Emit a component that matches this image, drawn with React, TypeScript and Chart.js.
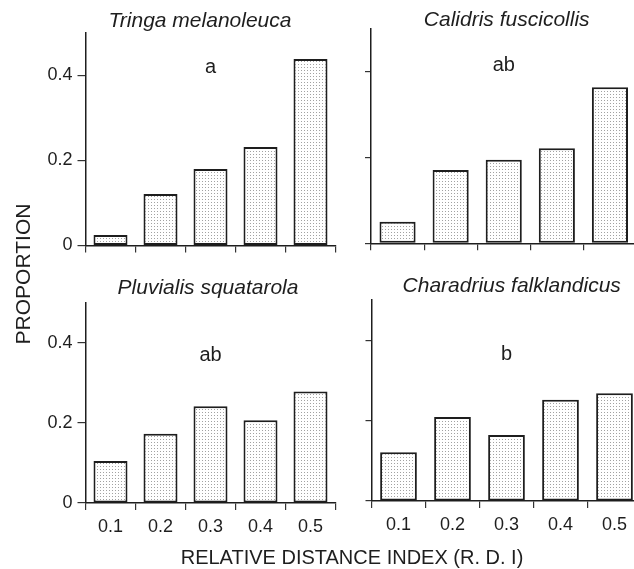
import React, { useEffect, useRef } from "react";
import { Chart, registerables } from "chart.js";

Chart.register(...registerables);

// ---- data ----
const rdiLabels = ["0.1", "0.2", "0.3", "0.4", "0.5"];
const yTickValues = [0, 0.2, 0.4];
const speciesNames = [
  "Tringa melanoleuca",
  "Calidris fuscicollis",
  "Pluvialis squatarola",
  "Charadrius falklandicus",
];
const tringaMelanoleuca = [0.025, 0.121, 0.18, 0.232, 0.439];
const calidrisFuscicollis = [0.05, 0.171, 0.195, 0.222, 0.364];
const pluvialisSquatarola = [0.105, 0.173, 0.242, 0.207, 0.279];
const charadriusFalklandicus = [0.121, 0.209, 0.164, 0.252, 0.268];
const significanceLetters = ["a", "ab", "ab", "b"];
const letterValues = [0.42, 0.415, 0.37, 0.365];
const xAxisTitle = "RELATIVE DISTANCE INDEX (R. D. I)";
const yAxisTitle = "PROPORTION";

// ---- layout / style ----
const W = 650;
const H = 569;
const FONT = '"Liberation Sans", Arial, Helvetica, sans-serif';
const INK = "#1e1e1e";

type Panel = {
  name: string;
  values: number[];
  letter: string;
  letterValue: number;
  area: { left: number; right: number; top: number; bottom: number };
  yLabels: boolean;
  xLabels: boolean;
  titleX: number;
  titleY: number;
  axisTitles: boolean;
};

const panels: Panel[] = [
  {
    name: speciesNames[0],
    values: tringaMelanoleuca,
    letter: significanceLetters[0],
    letterValue: letterValues[0],
    area: { left: 85.5, right: 335.5, top: 33, bottom: 245.5 },
    yLabels: true,
    xLabels: false,
    titleX: 200,
    titleY: 27,
    axisTitles: false,
  },
  {
    name: speciesNames[1],
    values: calidrisFuscicollis,
    letter: significanceLetters[1],
    letterValue: letterValues[1],
    area: { left: 371, right: 636.5, top: 29, bottom: 243.3 },
    yLabels: false,
    xLabels: false,
    titleX: 506.7,
    titleY: 26,
    axisTitles: false,
  },
  {
    name: speciesNames[2],
    values: pluvialisSquatarola,
    letter: significanceLetters[2],
    letterValue: letterValues[2],
    area: { left: 85.5, right: 335.5, top: 303, bottom: 503 },
    yLabels: true,
    xLabels: true,
    titleX: 208,
    titleY: 294,
    axisTitles: true,
  },
  {
    name: speciesNames[3],
    values: charadriusFalklandicus,
    letter: significanceLetters[3],
    letterValue: letterValues[3],
    area: { left: 371.5, right: 641.5, top: 300, bottom: 501 },
    yLabels: false,
    xLabels: true,
    titleX: 511.7,
    titleY: 292,
    axisTitles: false,
  },
];

function makePattern(): CanvasPattern | string {
  const tile = document.createElement("canvas");
  tile.width = 3;
  tile.height = 3;
  const t = tile.getContext("2d");
  if (!t) return "#eeeeee";
  t.fillStyle = "#ffffff";
  t.fillRect(0, 0, 3, 3);
  t.fillStyle = "#a2a2a2";
  t.fillRect(1, 1, 1, 1);
  const c = document.createElement("canvas").getContext("2d");
  const p = c ? c.createPattern(tile, "repeat") : null;
  return p || "#eeeeee";
}

function PanelChart({ panel }: { panel: Panel }) {
  const ref = useRef<HTMLCanvasElement | null>(null);
  useEffect(() => {
    if (!ref.current) return;
    const yW = panel.yLabels ? 50 : 20;
    const xH = panel.xLabels ? 40 : 12;
    const a = panel.area;
    const textPlugin = {
      id: "panelText",
      afterDraw(chart: any) {
        const ctx = chart.ctx as CanvasRenderingContext2D;
        ctx.save();
        ctx.fillStyle = INK;
        ctx.textAlign = "center";
        ctx.textBaseline = "alphabetic";
        ctx.font = `italic 21px ${FONT}`;
        ctx.fillText(panel.name, panel.titleX, panel.titleY);
        ctx.font = `20px ${FONT}`;
        ctx.textBaseline = "middle";
        const lx = chart.scales.x.getPixelForValue(2);
        const ly = chart.scales.y.getPixelForValue(panel.letterValue);
        ctx.fillText(panel.letter, lx, ly);
        if (panel.axisTitles) {
          ctx.font = `20px ${FONT}`;
          ctx.fillText(xAxisTitle, 352, 558);
          ctx.save();
          ctx.translate(24, 274);
          ctx.rotate(-Math.PI / 2);
          ctx.font = `21px ${FONT}`;
          ctx.fillText(yAxisTitle, 0, 0);
          ctx.restore();
        }
        ctx.restore();
      },
    };
    const chart = new Chart(ref.current, {
      type: "bar",
      data: {
        labels: rdiLabels,
        datasets: [
          {
            data: panel.values,
            backgroundColor: makePattern() as any,
            borderColor: INK,
            borderWidth: 2,
            borderSkipped: false,
            barPercentage: 0.68,
            categoryPercentage: 1,
          },
        ],
      },
      options: {
        responsive: false,
        animation: false,
        events: [],
        layout: {
          autoPadding: false,
          padding: {
            left: a.left - yW,
            right: W - a.right,
            top: a.top,
            bottom: H - a.bottom - xH,
          },
        },
        plugins: {
          legend: { display: false },
          tooltip: { enabled: false },
          title: { display: false },
        },
        scales: {
          x: {
            type: "category",
            offset: true,
            grid: {
              offset: true,
              drawOnChartArea: false,
              drawTicks: true,
              tickLength: 7,
              color: "#333",
              lineWidth: 1.2,
            },
            border: { display: true, color: INK, width: 1.5 },
            ticks: {
              display: panel.xLabels,
              color: INK,
              font: { family: FONT, size: 18 },
              padding: 6,
              maxRotation: 0,
              autoSkip: false,
            },
            afterFit: (s: any) => {
              s.height = xH;
            },
          },
          y: {
            type: "linear",
            min: 0,
            max: 0.5,
            afterBuildTicks: (s: any) => {
              s.ticks = yTickValues.map((v) => ({ value: v }));
            },
            grid: {
              drawOnChartArea: false,
              drawTicks: true,
              tickLength: panel.yLabels ? 8 : 6,
              color: "#333",
              lineWidth: 1.2,
            },
            border: { display: true, color: INK, width: 1.5 },
            ticks: {
              display: panel.yLabels,
              color: INK,
              font: { family: FONT, size: 18 },
              padding: 5,
              callback: (v: any) => (Number(v) === 0 ? "0" : Number(v).toFixed(1)),
            },
            afterFit: (s: any) => {
              s.width = yW;
            },
          },
        },
      } as any,
      plugins: [textPlugin],
    });
    return () => chart.destroy();
  }, [panel]);
  return (
    <canvas
      ref={ref}
      width={W}
      height={H}
      style={{ position: "absolute", left: 0, top: 0, width: W, height: H }}
    />
  );
}

export default function App() {
  return (
    <div
      style={{
        position: "absolute",
        left: 0,
        top: 0,
        width: 634,
        height: 569,
        overflow: "hidden",
        background: "#ffffff",
      }}
    >
      {panels.map((p) => (
        <PanelChart key={p.name} panel={p} />
      ))}
    </div>
  );
}
